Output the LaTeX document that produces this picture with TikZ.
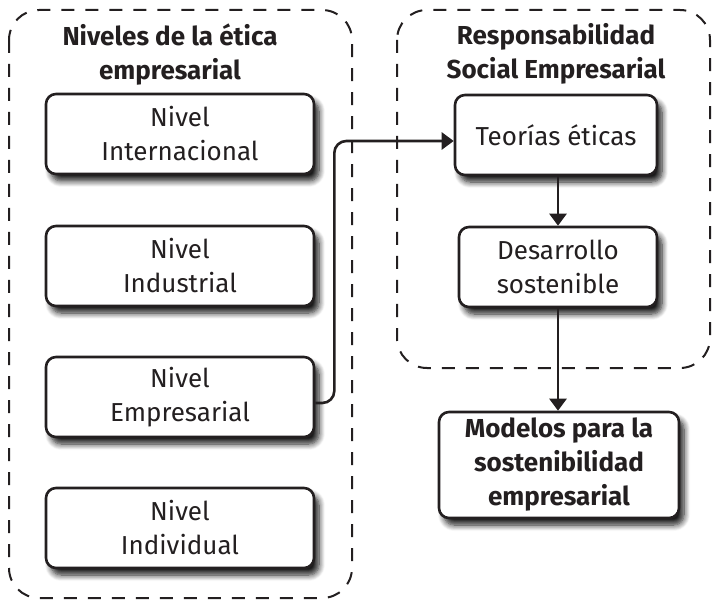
\documentclass[tikz,border=0pt]{standalone}
\usepackage{fontspec}
\setmainfont{Fira Sans}
\usetikzlibrary{arrows.meta,shadows.blur}
\definecolor{tinta}{RGB}{35,31,32}

\begin{document}
\begin{tikzpicture}
  [x=0.5pt,y=-0.5pt,>={Triangle[width=8.5pt,length=6pt]},
   every node/.style={align=center,text=tinta,font=\fontsize{13}{17}\selectfont}]

  \tikzstyle{grupo}  = [draw=tinta,line width=1pt,dash pattern=on 6.5pt off 5.5pt,rounded corners=15pt]
  \tikzstyle{titulo} = [font=\fontsize{13}{17}\selectfont\bfseries]
  \tikzstyle{flecha} = [->,draw=tinta,line width=1.3pt]
  \tikzstyle{caja}   = [draw=tinta,line width=1.3pt,rounded corners=5pt,fill=white,
                        minimum height=40pt,inner sep=2pt,
                        blur shadow={shadow xshift=2.5pt,shadow yshift=-3.5pt,
                                     shadow blur radius=3pt,shadow blur steps=8,shadow opacity=90}]

  \useasboundingbox (0,0) rectangle (712,604);

  % contenedores
  \draw[grupo] (9,10) rectangle (352,598);
  \draw[grupo] (397,10) rectangle (710,368);

  \node[titulo] (tniv) at (170,55) {Niveles de la ética\\empresarial};
  \node[titulo] (trse) at (556,54) {Responsabilidad\\Social Empresarial};

  \node[caja,minimum width=134pt] (intl)  at (180,134) {Nivel\\Internacional};
  \node[caja,minimum width=134pt] (indus) at (180,266) {Nivel\\Industrial};
  \node[caja,minimum width=134pt] (empre) at (180,397) {Nivel\\Empresarial};
  \node[caja,minimum width=134pt] (indiv) at (180,528) {Nivel\\Individual};

  \node[caja,minimum width=101pt] (teor) at (556,135) {Teorías éticas};
  \node[caja,minimum width=99pt]  (desa) at (558,267) {Desarrollo\\sostenible};
  \node[caja,titulo,minimum width=120pt,minimum height=53pt] (model) at (559,465)
        {Modelos para la\\sostenibilidad\\empresarial};

  \draw[flecha,rounded corners=6pt]
        ([yshift=-3pt]empre.east) -- ++(9.5pt,0) |- ([yshift=-3pt]teor.west);
  \draw[flecha] (teor.south-|desa.north) -- (desa.north);
  \draw[flecha] (desa.south) -- (model.north-|desa.south);
\end{tikzpicture}
\end{document}
